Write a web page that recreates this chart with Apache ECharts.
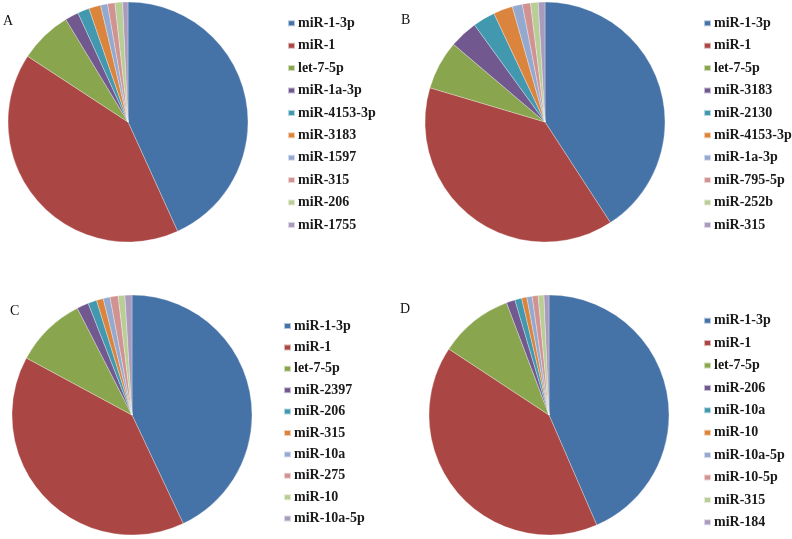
<!DOCTYPE html>
<html><head><meta charset="utf-8">
<script src="https://cdn.jsdelivr.net/npm/echarts@6/dist/echarts.min.js"></script>
<style>html,body{margin:0;padding:0;background:#fff}#c{width:792px;height:539px}</style>
</head><body><div id="c"></div>
<script>
const colors = ['#4572A7','#AA4643','#89A54E','#71588F','#4198AF','#DB843D','#93A9CF','#D19392','#B9CD96','#A99BBD'];

const namesA = ['miR-1-3p','miR-1','let-7-5p','miR-1a-3p','miR-4153-3p','miR-3183','miR-1597','miR-315','miR-206','miR-1755'];
const valuesA = [43.2, 41.0, 7.1, 1.83, 1.57, 1.6, 0.94, 0.99, 1.03, 0.71];

const namesB = ['miR-1-3p','miR-1','let-7-5p','miR-3183','miR-2130','miR-4153-3p','miR-1a-3p','miR-795-5p','miR-252b','miR-315'];
const valuesB = [40.8, 38.75, 6.6, 3.8, 3.0, 2.6, 1.36, 1.1, 1.03, 0.9];

const namesC = ['miR-1-3p','miR-1','let-7-5p','miR-2397','miR-206','miR-315','miR-10a','miR-275','miR-10','miR-10a-5p'];
const valuesC = [43.0, 39.9, 9.6, 1.58, 1.17, 0.92, 0.92, 1.1, 0.9, 0.94];

const namesD = ['miR-1-3p','miR-1','let-7-5p','miR-206','miR-10a','miR-10','miR-10a-5p','miR-10-5p','miR-315','miR-184'];
const valuesD = [43.5, 40.8, 9.97, 1.17, 0.92, 0.7, 0.72, 0.8, 0.78, 0.67];

const panelLabels = ['A','B','C','D'];

const panels = [
  {names: namesA, values: valuesA, center: [128,122], legend: {left: 287, top: 16.3}, gap: 8.4, label: [3, 21]},
  {names: namesB, values: valuesB, center: [545,122], legend: {left: 703, top: 16.3}, gap: 8.4, label: [401, 20]},
  {names: namesC, values: valuesC, center: [132,415], legend: {left: 283, top: 319}, gap: 7.4, label: [10, 311]},
  {names: namesD, values: valuesD, center: [549,415], legend: {left: 703, top: 313.7}, gap: 8.4, label: [400, 309]}
];

const series = [], legends = [], graphics = [];
panels.forEach((p, i) => {
  series.push({
    type: 'pie', name: panelLabels[i], center: p.center, radius: 120,
    startAngle: 90, clockwise: true, avoidLabelOverlap: false,
    label: {show: false}, labelLine: {show: false}, silent: true,
    itemStyle: {borderColor: 'rgba(255,255,255,0.6)', borderWidth: 0.5},
    data: p.names.map((n, k) => ({name: n, value: p.values[k], itemStyle: {color: colors[k]}}))
  });
  legends.push({
    orient: 'vertical', left: p.legend.left, top: p.legend.top, padding: 0,
    itemWidth: 7, itemHeight: 6, itemGap: p.gap, icon: 'rect', selectedMode: false,
    textStyle: {fontFamily: 'Liberation Serif', fontWeight: 'bold', fontSize: 14, color: '#1a1a1a', lineHeight: 14, padding: [0,0,0,-2]},
    data: p.names.map((n, k) => ({name: n, itemStyle: {color: colors[k]}}))
  });
  graphics.push({
    type: 'text', left: p.label[0], top: p.label[1] - 7,
    style: {text: panelLabels[i], font: '14px "Liberation Serif"', fill: '#111'}
  });
});

const chart = echarts.init(document.getElementById('c'), null, {renderer: 'canvas'});
chart.setOption({
  animation: false,
  backgroundColor: '#fff',
  color: colors,
  legend: legends,
  series: series,
  graphic: graphics
});
</script></body></html>
